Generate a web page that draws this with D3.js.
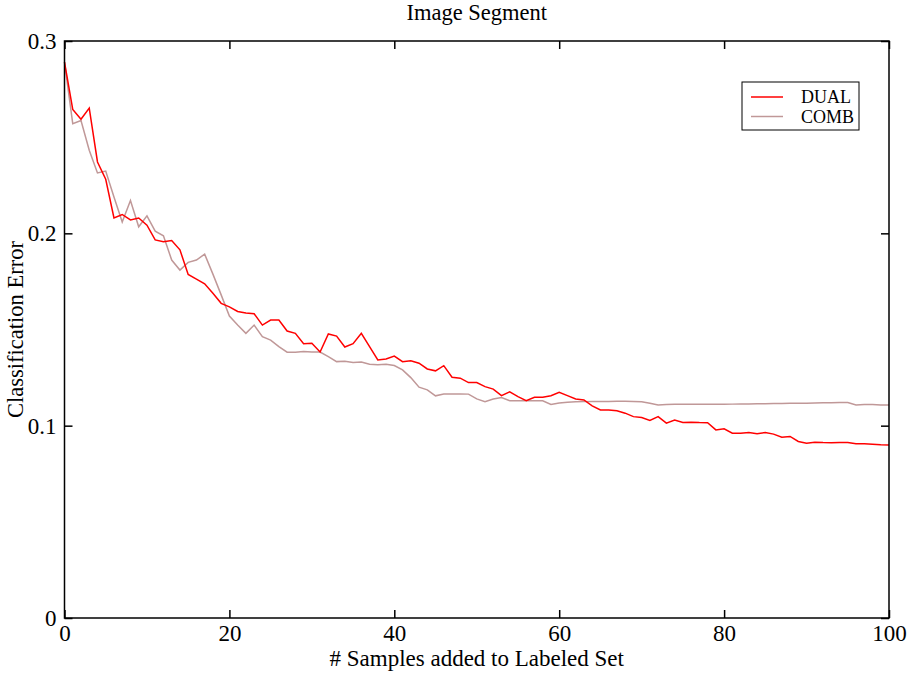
<!DOCTYPE html>
<html>
<head>
<meta charset="utf-8">
<script src="https://cdn.jsdelivr.net/npm/d3@7"></script>
<style>
  body { margin: 0; background: #fff; }
  text { font-family: "Liberation Serif", "Times New Roman", serif; fill: #000; }
</style>
</head>
<body>
<div id="viz"></div>
<script>
// samples added (x) and errors of the two methods
var samples = d3.range(0, 101);
var dual = [0.2890,0.2644,0.2593,0.2651,0.2371,0.2281,0.2080,0.2098,0.2070,0.2080,
  0.2042,0.1966,0.1956,0.1963,0.1914,0.1786,0.1762,0.1738,0.1688,0.1636,
  0.1618,0.1594,0.1586,0.1582,0.1523,0.1549,0.1549,0.1492,0.1480,0.1426,
  0.1428,0.1383,0.1477,0.1466,0.1409,0.1426,0.1480,0.1411,0.1342,0.1347,
  0.1362,0.1333,0.1338,0.1325,0.1295,0.1285,0.1312,0.1252,0.1247,0.1224,
  0.1224,0.1203,0.1190,0.1156,0.1176,0.1151,0.1130,0.1148,0.1148,0.1156,
  0.1174,0.1156,0.1139,0.1134,0.1103,0.1082,0.1081,0.1077,0.1065,0.1047,
  0.1042,0.1027,0.1047,0.1013,0.1029,0.1016,0.1018,0.1016,0.1015,0.0978,
  0.0984,0.0961,0.0961,0.0964,0.0958,0.0964,0.0956,0.0940,0.0944,0.0918,
  0.0909,0.0914,0.0912,0.0911,0.0912,0.0912,0.0906,0.0906,0.0904,0.0901,
  0.0900];
var comb = [0.2890,0.2570,0.2587,0.2432,0.2314,0.2324,0.2189,0.2059,0.2171,0.2034,
  0.2091,0.2011,0.1987,0.1861,0.1809,0.1849,0.1861,0.1892,0.1788,0.1680,
  0.1570,0.1523,0.1480,0.1523,0.1463,0.1445,0.1411,0.1382,0.1382,0.1385,
  0.1383,0.1383,0.1359,0.1333,0.1335,0.1328,0.1331,0.1319,0.1317,0.1319,
  0.1313,0.1290,0.1250,0.1200,0.1186,0.1155,0.1164,0.1164,0.1165,0.1164,
  0.1139,0.1125,0.1139,0.1146,0.1130,0.1130,0.1130,0.1130,0.1129,0.1110,
  0.1118,0.1122,0.1124,0.1125,0.1126,0.1126,0.1126,0.1127,0.1127,0.1126,
  0.1124,0.1117,0.1108,0.1110,0.1111,0.1111,0.1112,0.1112,0.1112,0.1112,
  0.1111,0.1112,0.1113,0.1113,0.1114,0.1114,0.1115,0.1115,0.1116,0.1117,
  0.1117,0.1118,0.1119,0.1119,0.1120,0.1120,0.1107,0.1110,0.1110,0.1108,
  0.1108];
var xTicks = [0, 20, 40, 60, 80, 100];
var yTicks = [0, 0.1, 0.2, 0.3];
var seriesNames = ["DUAL", "COMB"];
var seriesColors = ["#ff0000", "#c09898"];

var W = 907, H = 674;
var margin = {top: 41, right: 18, bottom: 56, left: 64.5};
var width = W - margin.left - margin.right,
    height = H - margin.top - margin.bottom;

var svg = d3.select("#viz").append("svg")
    .attr("width", W).attr("height", H);

svg.append("text")
    .attr("x", margin.left + width / 2).attr("y", 20)
    .attr("text-anchor", "middle")
    .style("font-size", "22.5px")
    .text("Image Segment");

var g = svg.append("g").attr("transform", "translate(" + margin.left + "," + margin.top + ")");

var x = d3.scaleLinear().domain([0, 100]).range([0, width]);
var y = d3.scaleLinear().domain([0, 0.3]).range([height, 0]);

function yfmt(d) { return d === 0 ? "0" : d3.format(".1f")(d); }

function styleAxis(sel) {
  sel.select(".domain").remove();
  sel.selectAll(".tick line").attr("stroke", "#000").attr("stroke-width", 1.5);
  sel.selectAll(".tick text").style("font-size", "23px").attr("font-family", null);
}

g.append("g").attr("transform", "translate(0," + height + ")")
  .call(d3.axisBottom(x).tickValues(xTicks).tickSizeInner(-8).tickSizeOuter(0).tickPadding(7))
  .call(styleAxis);
g.append("g")
  .call(d3.axisTop(x).tickValues(xTicks).tickSizeInner(-8).tickSizeOuter(0).tickFormat(""))
  .call(styleAxis);
g.append("g")
  .call(d3.axisLeft(y).tickValues(yTicks).tickFormat(yfmt).tickSizeInner(-8).tickSizeOuter(0).tickPadding(8))
  .call(styleAxis);
g.append("g").attr("transform", "translate(" + width + ",0)")
  .call(d3.axisRight(y).tickValues(yTicks).tickSizeInner(-8).tickSizeOuter(0).tickFormat(""))
  .call(styleAxis);

var line = d3.line()
    .x(function(d, i) { return x(samples[i]); })
    .y(function(d) { return y(d); });

[comb, dual].forEach(function(s, k) {
  g.append("path")
    .datum(s)
    .attr("fill", "none")
    .attr("stroke", k === 0 ? seriesColors[1] : seriesColors[0])
    .attr("stroke-width", 1.5)
    .attr("d", line);
});

g.append("rect")
    .attr("width", width).attr("height", height)
    .attr("fill", "none").attr("stroke", "#000").attr("stroke-width", 1.5);

// labels
svg.append("text")
    .attr("x", margin.left + width / 2).attr("y", 666)
    .attr("text-anchor", "middle")
    .style("font-size", "23px")
    .text("# Samples added to Labeled Set");
svg.append("text")
    .attr("transform", "translate(23," + (margin.top + height / 2) + ") rotate(-90)")
    .attr("text-anchor", "middle")
    .style("font-size", "22.5px")
    .text("Classification Error");

// legend
var legend = svg.append("g").attr("transform", "translate(742,82)");
legend.append("rect")
    .attr("width", 117).attr("height", 48)
    .attr("fill", "#fff").attr("stroke", "#000").attr("stroke-width", 1);
seriesNames.forEach(function(name, i) {
  legend.append("line")
    .attr("x1", 9).attr("x2", 41)
    .attr("y1", 15 + i * 19.5).attr("y2", 15 + i * 19.5)
    .attr("stroke", seriesColors[i]).attr("stroke-width", 1.5);
  legend.append("text")
    .attr("x", 59).attr("y", 21 + i * 19.5)
    .style("font-size", "18px")
    .text(name);
});
</script>
</body>
</html>
